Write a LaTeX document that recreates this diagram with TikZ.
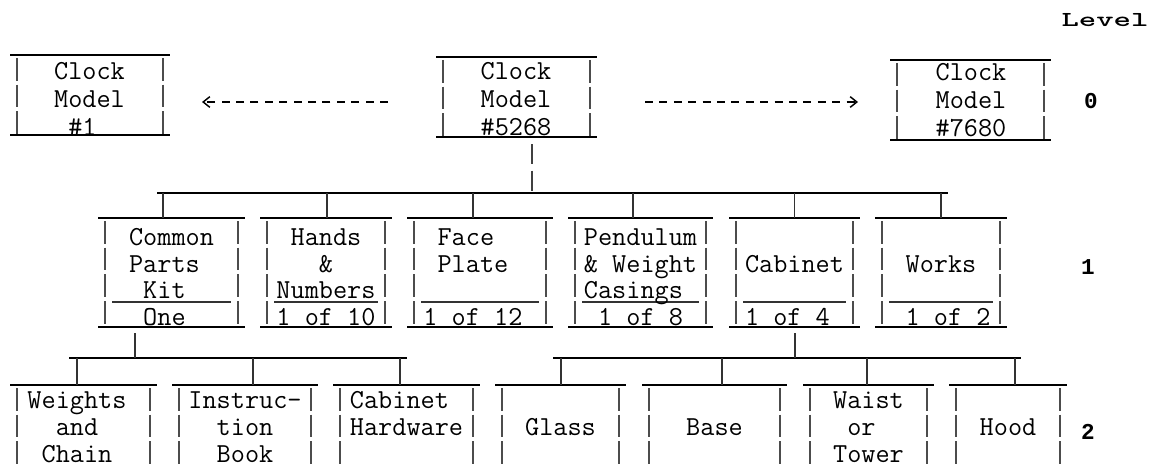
\documentclass[tikz,border=0pt]{standalone}
\usepackage{fontspec}
\usetikzlibrary{calc,arrows.meta}
\newfontfamily\tw{Liberation Mono}
\newdimen\pxu \pxu=0.75pt
\newcommand\boxtop[1]{\draw[topl] (#1.north west) -- (#1.north east);}
\newcommand\boxbot[1]{\draw[botl] (#1.south west) -- (#1.south east);}
\newcommand\boxsides[1]{%
  \draw[side] ($(#1.north west)+(7,3)$) -- ($(#1.south west)+(7,0)$);
  \draw[side] ($(#1.north east)+(-7,3)$) -- ($(#1.south east)+(-7,0)$);}
\newcommand\boxsep[1]{\draw[sepl] ($(#1.north west)+(14,84)$) -- ($(#1.north east)+(-14,84)$);}
\tikzset{
  topl/.style={line width=1.4pt, black},
  botl/.style={line width=1.3pt, black},
  side/.style={line width=0.9pt, black!70, dash pattern=on 17pt off 3pt},
  sepl/.style={line width=0.9pt, black!80},
  bus/.style={line width=1.4pt, black},
  stub/.style={line width=1pt, black!80},
  vstub/.style={line width=1pt, black!75, dash pattern=on 15pt off 5pt},
  dasharr/.style={line width=1.3pt, black, dash pattern=on 6pt off 4.8pt,
     -{Straight Barb[length=5pt,width=8pt,line width=1.1pt]}},
  fr/.style 2 args={rectangle, inner sep=0pt, outer sep=0pt, draw=none,
     minimum width=#1\pxu, minimum height=#2\pxu},
  t0/.style={font={\ttfamily\fontsize{20.6}{21}\selectfont}, align=center, inner sep=0pt},
  t1/.style={font={\ttfamily\fontsize{20.6}{20}\selectfont}, align=center, inner sep=0pt},
  t2/.style={font={\ttfamily\fontsize{20.6}{20.25}\selectfont}, align=center, inner sep=0pt},
  lvl/.style={font={\tw\bfseries\fontsize{17}{18}\selectfont}, inner sep=0pt},
  lvh/.style={font={\ttfamily\bfseries\fontsize{16}{17}\selectfont}, inner sep=0pt},
}
\begin{document}
\begin{tikzpicture}[x=0.75pt,y=-0.75pt]
\useasboundingbox (0,0) rectangle (1160,467);

% ---------- Level 0 ----------
\node[fr={160}{80}] (m1) at (90,95) {};
\node[fr={161}{80}] (m5268) at (516.5,97) {};
\node[fr={161}{80}] (m7680) at (970.5,100) {};
\foreach \n in {m1,m5268,m7680} {\boxtop{\n}\boxbot{\n}\boxsides{\n}}
\node[t0] (m1t) at (89.5,101.5) {\strut Clock\\\strut Model\\\strut\#1\hphantom{x}};
\node[t0] (m5268t) at (516,102) {\strut Clock\\\strut Model\\\strut\#5268};
\node[t0] (m7680t) at (971,102.5) {\strut Clock\\\strut Model\\\strut\#7680};
\draw[dasharr, shorten <=128\pxu, shorten >=112.5\pxu] (m5268t.center) -- (m1t.center |- m5268t.center);
\draw[dasharr, shorten <=129\pxu, shorten >=113\pxu] (m5268t.center) -- (m7680t.center |- m5268t.center);

% ---------- bus to level 1 ----------
\coordinate (b1L) at (157,193);
\coordinate (b1R) at (948,193);
\draw[bus] (b1L) -- (b1R);
\coordinate (s0) at ($(m5268.south)+(15.5,7)$);
\draw[vstub] (s0) -- (s0 |- b1L);

% ---------- Level 1 ----------
\node[fr={147}{109}] (cp) at (171.5,272.5) {};
\node[fr={132}{109}] (hn) at (326,272.5) {};
\node[fr={146}{109}] (fp) at (480,272.5) {};
\node[fr={145}{109}] (pw) at (640.5,272.5) {};
\node[fr={131}{109}] (cab) at (794.5,272.5) {};
\node[fr={132}{109}] (wk) at (941,272.5) {};
\foreach \n in {cp,hn,fp,pw,cab,wk} {\boxtop{\n}\boxbot{\n}\boxsides{\n}\boxsep{\n}}
\foreach \n/\d in {cp/-8.5,hn/1,fp/-7,pw/-7.5,cab/0,wk/0} {
  \coordinate (tmp) at ($(\n.north)+(\d,0)$);
  \draw[stub] (tmp) -- (tmp |- b1L);
}
\node[t1] (cpt) at (171.5,280) {\strut Common\\\strut Parts\hphantom{x}\\\strut Kit\hphantom{x}\\\strut One\hphantom{x}};
\node[t1] (hnt) at (326,280) {\strut Hands\\\strut\&\\\strut Numbers\\\strut 1 of 10};
\node[t1] (fpt) at (480,280) {\strut Face\hphantom{xx}\\\strut Plate\hphantom{x}\\\strut~\\\strut 1 of 12\hphantom{x}};
\node[t1] (pwt) at (640.5,280) {\strut Pendulum\\\strut\& Weight\\\strut Casings\hphantom{x}\\\strut 1 of 8};
\node[t1] (cabt) at (794.5,280) {\strut~\\\strut Cabinet\\\strut~\\\strut 1 of 4\hphantom{x}};
\node[t1] (wkt) at (941,280) {\strut~\\\strut Works\\\strut~\\\strut\hphantom{x}1 of 2};

% ---------- buses to level 2 ----------
\coordinate (b2L) at (69,358);
\coordinate (b2R) at (407,358);
\coordinate (b3L) at (553,358);
\coordinate (b3R) at (1021,358);
\draw[bus] (b2L) -- (b2R);
\draw[bus] (b3L) -- (b3R);
\coordinate (s1) at ($(cp.south)+(-36.5,6)$);
\draw[stub] (s1) -- (s1 |- b2L);
\coordinate (s2) at ($(cab.south)+(0.5,6)$);
\draw[stub] (s2) -- (s2 |- b3L);

% ---------- Level 2 ----------
\node[fr={147}{82}] (wc) at (83.5,426) {};
\node[fr={146}{82}] (ib) at (245,426) {};
\node[fr={147}{82}] (ch) at (406.5,426) {};
\node[fr={131}{82}] (gl) at (560.5,426) {};
\node[fr={145}{82}] (ba) at (714.5,426) {};
\node[fr={131}{82}] (wt) at (868.5,426) {};
\node[fr={118}{82}] (ho) at (1008,426) {};
\foreach \n in {wc,ib,ch,gl,ba,wt,ho} {\boxtop{\n}\boxsides{\n}}
\foreach \n/\d in {wc/-6.5,ib/8,ch/-6.5} {
  \coordinate (tmp) at ($(\n.north)+(\d,0)$);
  \draw[stub] (tmp) -- (tmp |- b2L);
}
\foreach \n/\d in {gl/0.5,ba/7.5,wt/-1.5,ho/7} {
  \coordinate (tmp) at ($(\n.north)+(\d,0)$);
  \draw[stub] (tmp) -- (tmp |- b3L);
}
\node[t2] (wct) at (77,430.5) {\strut Weights\\\strut and\\\strut Chain};
\node[t2] (ibt) at (245,430.5) {\strut Instruc-\\\strut tion\\\strut Book};
\node[t2] (cht) at (406.5,430.5) {\strut Cabinet\hphantom{x}\\\strut Hardware\\\strut~};
\node[t2] (glt) at (560.5,430.5) {\strut~\\\strut Glass\\\strut~};
\node[t2] (bat) at (714.5,430.5) {\strut~\\\strut Base\\\strut~};
\node[t2] (wtt) at (868.5,430.5) {\strut Waist\\\strut or\hphantom{x}\\\strut Tower};
\node[t2] (hot) at (1008,430.5) {\strut~\\\strut Hood\\\strut~};

% ---------- Level column ----------
\node[lvh] (lvh) at (1105,20) {\scalebox{1.55}[1]{Level}};
\node[lvl] (l0) at (1091,101) {0};
\node[lvl] (l1) at (1088,267) {1};
\node[lvl] (l2) at (1088,432) {2};
\end{tikzpicture}
\end{document}
